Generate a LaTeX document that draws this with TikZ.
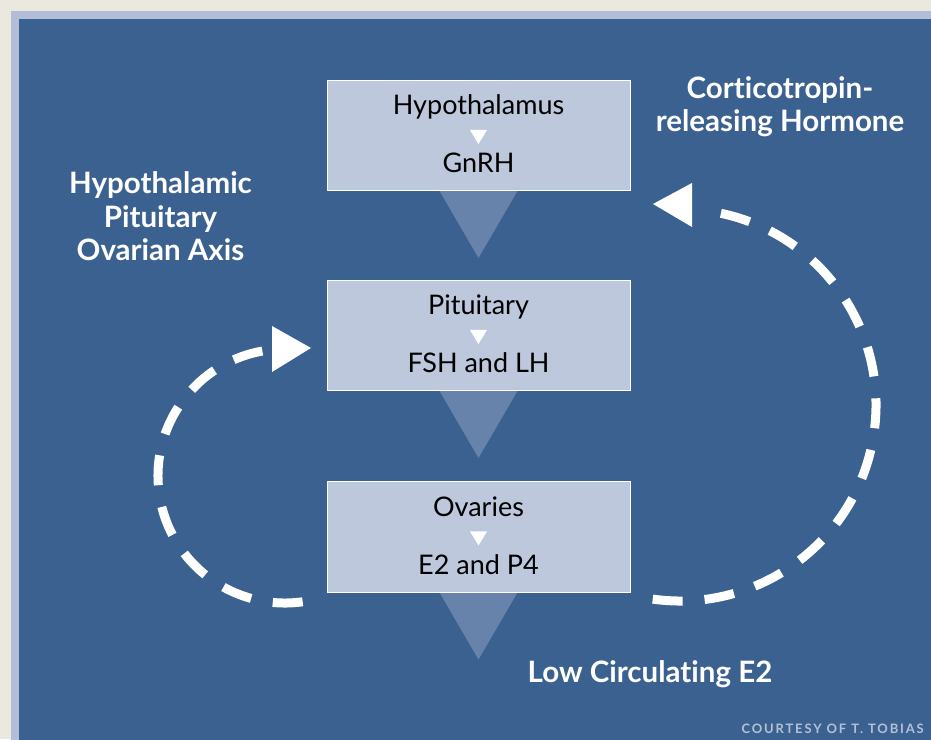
\documentclass[tikz,border=0pt]{standalone}
\usepackage{fontspec}
\setmainfont{Lato}[Ligatures=NoCommon]
\definecolor{bgbeige}{HTML}{EAE8DF}
\definecolor{borderc}{HTML}{B2BED8}
\definecolor{panel}{HTML}{3A618F}
\definecolor{boxfill}{HTML}{BDC8DC}
\definecolor{funnelc}{HTML}{6883AB}
\definecolor{credit}{HTML}{B4C0D8}
\begin{document}
\begin{tikzpicture}[x=1pt,y=1pt,
  box/.style={draw=white, line width=1pt, fill=boxfill, minimum width=303pt, minimum height=110pt, inner sep=0pt},
  boxtext/.style={font=\fontsize{27}{30}\selectfont, text=black, anchor=base, inner sep=0pt},
  biglabel/.style={font=\bfseries\fontsize{29.5}{33.5}\selectfont, text=white, align=center, inner sep=0pt},
  funnel/.style={fill=funnelc},
  pointer/.style={fill=white},
  loopline/.style={draw=white, line width=9pt, dash pattern=on 30pt off 22pt}
]
\useasboundingbox (0,0) rectangle (931,739);
\fill[bgbeige] (0,0) rectangle (931,739);
\fill[borderc] (11,-10) rectangle (941,728);
\fill[panel] (19,-10) rectangle (941,719.5);

% boxes
\node[box] (hyp) at (478.5,603.5) {};
\node[box] (pit) at (478.5,403.5) {};
\node[box] (ova) at (478.5,202) {};

% funnels
\foreach \b in {hyp,pit,ova}{
  \fill[funnel] ([xshift=-39pt]\b.south) -- ([xshift=39pt]\b.south) -- ([yshift=-67pt]\b.south) -- cycle;
}
\node[box] at (hyp) {};
\node[box] at (pit) {};
\node[box] at (ova) {};

% box texts
\node[boxtext] (hyptxt) at ([yshift=-35pt]hyp.north) {Hypothalamus};
\node[boxtext] (gnrh) at ([yshift=-93pt]hyp.north) {GnRH};
\node[boxtext] (pittxt) at ([yshift=-35pt]pit.north) {Pituitary};
\node[boxtext] (fsh) at ([yshift=-93pt]pit.north) {FSH and LH};
\node[boxtext] (ovatxt) at ([yshift=-35pt]ova.north) {Ovaries};
\node[boxtext] (e2p4) at ([yshift=-93pt]ova.north) {E2 and P4};

% small pointers
\foreach \b in {hyp,pit,ova}{
  \fill[pointer] ([xshift=-8.5pt,yshift=-50pt]\b.north) -- ([xshift=8.5pt,yshift=-50pt]\b.north) -- ([yshift=-64pt]\b.north) -- cycle;
}

% loops
\coordinate (lc) at (285,263);
\draw[loopline] (lc) ++(278:127) arc[start angle=278, end angle=100, radius=127];
\fill[pointer] (272,413) -- (311,391) -- (272,367) -- cycle;
\coordinate (rc) at (680,334);
\draw[loopline] (rc) ++(262:196) arc[start angle=262, end angle=442, radius=196];
\fill[pointer] (692,556) -- (653,535) -- (692,512) -- cycle;

% labels
\node[biglabel] (axis) at (160.5,522.5) {Hypothalamic\\Pituitary\\Ovarian Axis};
\node[biglabel] (crh) at (780,632.5) {Corticotropin-\\releasing Hormone};
\node[biglabel, anchor=base] (low) at (650,57) {Low Circulating E2};
\node[font=\bfseries\fontsize{13}{15}\selectfont\addfontfeatures{LetterSpace=14}, text=credit, anchor=base east, inner sep=0pt] (credit) at (924,6) {COURTESY OF T. TOBIAS};
\end{tikzpicture}
\end{document}
